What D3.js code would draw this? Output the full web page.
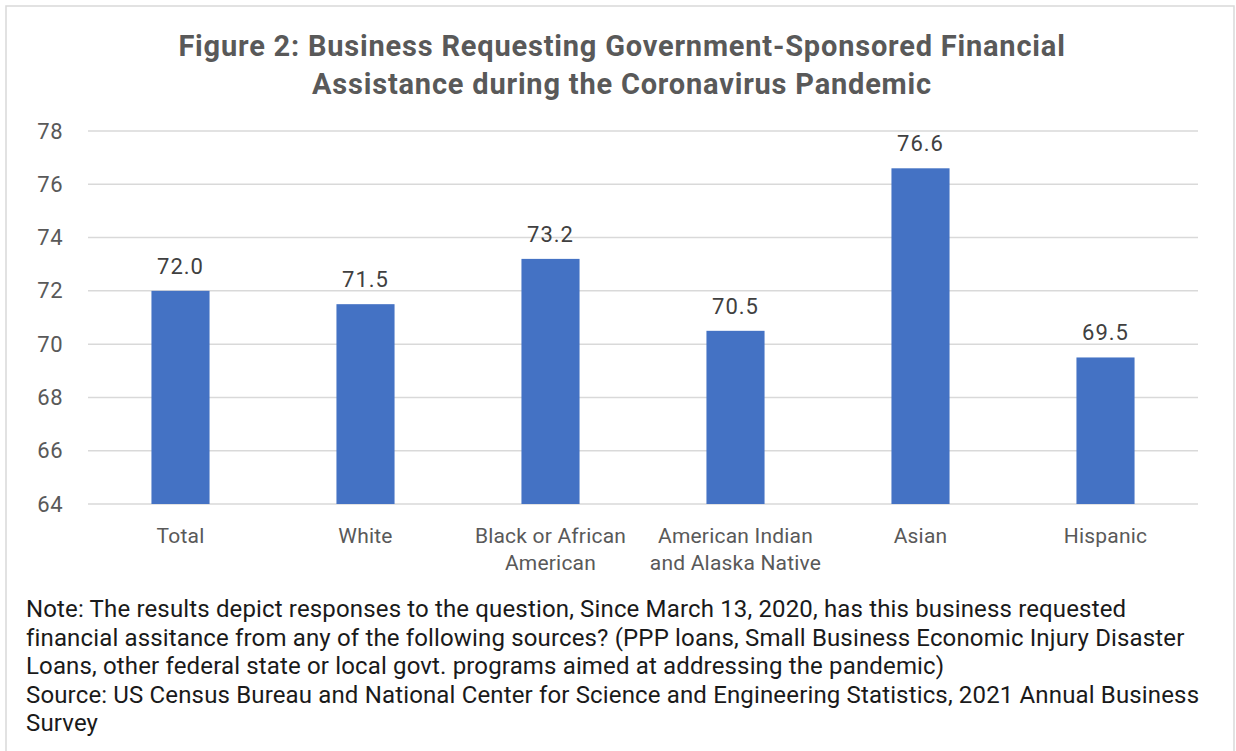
<!DOCTYPE html>
<html>
<head>
<meta charset="utf-8">
<script src="https://cdn.jsdelivr.net/npm/d3@7"></script>
<style>
  html, body { margin: 0; padding: 0; background: #fff; }
  svg { display: block; font-family: Roboto, "Noto Sans", sans-serif; }
</style>
</head>
<body>
<svg id="chart" width="1236" height="751"></svg>
<script>
// Share of businesses requesting financial assistance, by owner group
const categories = ["Total", "White", "Black or African American", "American Indian and Alaska Native", "Asian", "Hispanic"];
const categoryLines = [["Total"], ["White"], ["Black or African", "American"], ["American Indian", "and Alaska Native"], ["Asian"], ["Hispanic"]];
const values = [72.0, 71.5, 73.2, 70.5, 76.6, 69.5];
const yTicks = [64, 66, 68, 70, 72, 74, 76, 78];
const titleLines = [
  "Figure 2: Business Requesting Government-Sponsored Financial",
  "Assistance during the Coronavirus Pandemic"
];
const noteLines = [
  "Note: The results depict responses to the question, Since March 13, 2020, has this business requested",
  "financial assitance from any of the following sources? (PPP loans, Small Business Economic Injury Disaster",
  "Loans, other federal state or local govt. programs aimed at addressing the pandemic)",
  "Source: US Census Bureau and National Center for Science and Engineering Statistics, 2021 Annual Business",
  "Survey"
];

const svg = d3.select("#chart");

// outer frame
svg.append("rect")
  .attr("x", 6).attr("y", 6)
  .attr("width", 1228).attr("height", 800)
  .attr("fill", "#fff")
  .attr("stroke", "#d9d9d9")
  .attr("stroke-width", 1.5);

// title
svg.append("g").selectAll("text")
  .data(titleLines)
  .join("text")
  .attr("x", 622)
  .attr("y", (d, i) => 56 + i * 38)
  .attr("text-anchor", "middle")
  .attr("font-size", 29)
  .attr("font-weight", 700)
  .attr("letter-spacing", 0.8)
  .attr("fill", "#595959")
  .text(d => d);

const x = d3.scaleBand()
  .domain(categories)
  .range([88, 1198])
  .paddingInner(0.686)
  .paddingOuter(0.343);

const y = d3.scaleLinear()
  .domain([64, 78])
  .range([504, 131]);

// horizontal gridlines
svg.append("g")
  .selectAll("line")
  .data(yTicks)
  .join("line")
  .attr("x1", 88).attr("x2", 1198)
  .attr("y1", d => y(d)).attr("y2", d => y(d))
  .attr("stroke", "#d9d9d9")
  .attr("stroke-width", 1.5);

// y axis labels
const yAxis = d3.axisLeft(y).tickValues(yTicks).tickSize(0).tickPadding(0).tickFormat(d3.format("d"));
svg.append("g")
  .attr("transform", "translate(63,0)")
  .call(yAxis)
  .call(g => g.select(".domain").remove())
  .selectAll("text")
  .attr("font-family", "Roboto, 'Noto Sans', sans-serif")
  .attr("font-size", 22)
  .attr("letter-spacing", 0.5)
  .attr("fill", "#595959");

// bars
svg.append("g")
  .selectAll("rect")
  .data(values)
  .join("rect")
  .attr("x", (d, i) => x(categories[i]))
  .attr("width", x.bandwidth())
  .attr("y", d => y(d))
  .attr("height", d => y(64) - y(d))
  .attr("fill", "#4472c4");

// value labels
svg.append("g")
  .selectAll("text")
  .data(values)
  .join("text")
  .attr("x", (d, i) => x(categories[i]) + x.bandwidth() / 2)
  .attr("y", d => y(d) - 17)
  .attr("text-anchor", "middle")
  .attr("font-size", 22)
  .attr("letter-spacing", 1)
  .attr("fill", "#404040")
  .text(d => d3.format(".1f")(d));

// category labels
const cat = svg.append("g")
  .selectAll("text")
  .data(categories)
  .join("text")
  .attr("x", d => x(d) + x.bandwidth() / 2)
  .attr("y", 543)
  .attr("text-anchor", "middle")
  .attr("font-size", 21)
  .attr("letter-spacing", 0.2)
  .attr("fill", "#595959");
cat.each(function(d, i) {
  d3.select(this).selectAll("tspan")
    .data(categoryLines[i])
    .join("tspan")
    .attr("x", x(d) + x.bandwidth() / 2)
    .attr("dy", (t, j) => j === 0 ? 0 : 27)
    .text(t => t);
});

// note and source
svg.append("g").selectAll("text")
  .data(noteLines)
  .join("text")
  .attr("x", 26)
  .attr("y", (d, i) => 617 + i * 28.5)
  .attr("font-size", 24)
  .attr("letter-spacing", 0.15)
  .attr("fill", "#1a1a1a")
  .text(d => d);
</script>
</body>
</html>
